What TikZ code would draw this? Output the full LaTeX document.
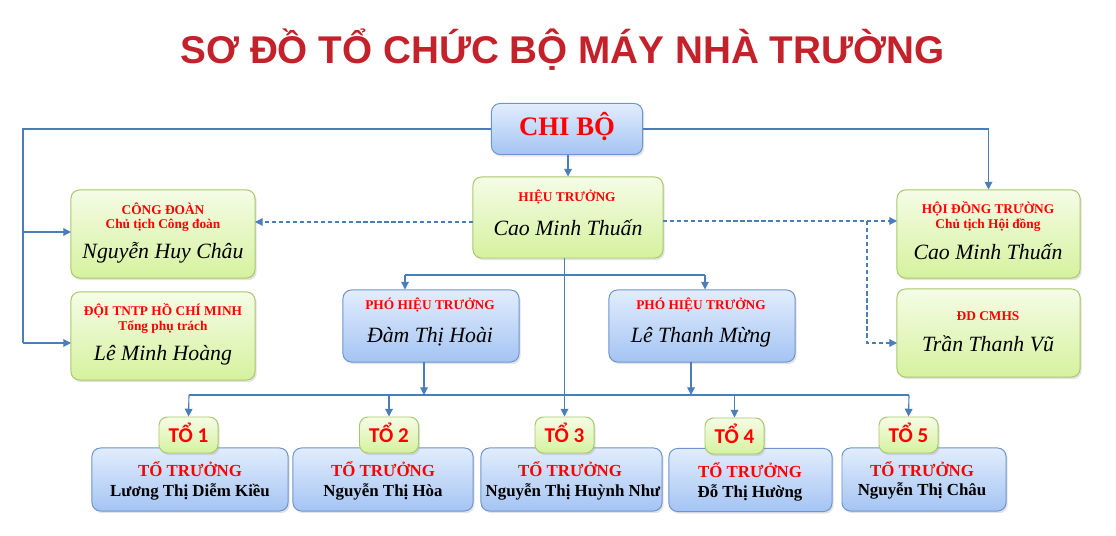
\documentclass[tikz,border=0pt]{standalone}
\usepackage{fontspec}
\setmainfont{Liberation Serif}
\newfontfamily\titlefont{Liberation Sans}
\newfontfamily\tabfont{Carlito}
\usetikzlibrary{arrows.meta,shadows}

\definecolor{lineblue}{HTML}{4A7EBB}
\definecolor{blueedge}{HTML}{6D94CF}
\definecolor{bluetop}{HTML}{E2EDFD}
\definecolor{bluebot}{HTML}{A4C4F3}
\definecolor{greenedge}{HTML}{A9C76C}
\definecolor{greentop}{HTML}{F5FCE6}
\definecolor{greenbot}{HTML}{D5F29E}
\definecolor{titlered}{HTML}{C3222B}

\tikzset{
    boxbase/.style={rounded corners=6pt, line width=0.7pt, inner sep=0pt,
        drop shadow={shadow xshift=1.2pt, shadow yshift=-1.5pt, opacity=0.22}},
    bluebox/.style={boxbase, draw=blueedge, top color=bluetop, bottom color=bluebot},
    greenbox/.style={boxbase, draw=greenedge, top color=greentop, bottom color=greenbot},
    tabbox/.style={greenbox, minimum width=1.475cm, minimum height=0.9cm},
    lowbox/.style={bluebox, minimum height=1.575cm},
    conn/.style={draw=lineblue, line width=0.8pt},
    arr/.style={conn, -{Triangle[length=5.5pt,width=5.5pt]}},
    dasharr/.style={arr, dash pattern=on 3pt off 2pt},
    lbl/.style={text=red, font=\fontsize{9.5}{11}\selectfont\bfseries, inner sep=0pt},
    nm/.style={font=\fontsize{15.5}{17}\selectfont\itshape, inner sep=0pt},
    ttlbl/.style={text=red, font=\fontsize{12}{14}\selectfont\bfseries, inner sep=0pt},
    ttname/.style={font=\fontsize{12}{14}\selectfont\bfseries, inner sep=0pt},
    tabtxt/.style={text=red, font=\tabfont\fontsize{15}{17}\selectfont\bfseries, inner sep=0pt}
}

\begin{document}
\begin{tikzpicture}[x=0.025cm, y=-0.025cm]
    \useasboundingbox (0,0) rectangle (1116,536);

    % title
    \node[text=titlered, font=\titlefont\fontsize{27.5}{30}\selectfont\bfseries] (title) at (562.5,50) {SƠ ĐỒ TỔ CHỨC BỘ MÁY NHÀ TRƯỜNG};

    % upper boxes
    \node[bluebox, minimum width=3.775cm, minimum height=1.275cm] (chibo) at (567,129) {};
    \node[greenbox, minimum width=4.75cm, minimum height=2.025cm] (ht) at (568,217.5) {};
    \node[greenbox, minimum width=4.6cm, minimum height=2.2cm] (cd) at (163,234) {};
    \node[greenbox, minimum width=4.6cm, minimum height=2.2cm] (doi) at (163,336) {};
    \node[greenbox, minimum width=4.575cm, minimum height=2.2cm] (hdt) at (988.5,234) {};
    \node[greenbox, minimum width=4.575cm, minimum height=2.2cm] (dd) at (988.5,333) {};
    \node[bluebox, minimum width=4.4cm, minimum height=1.8cm] (pht1) at (431,326) {};
    \node[bluebox, minimum width=4.65cm, minimum height=1.8cm] (pht2) at (702,326) {};

    % texts of upper boxes
    \node[text=red, font=\fontsize{19}{21}\selectfont\bfseries, inner sep=0pt] (chibotxt) at (567,127) {CHI BỘ};
    \node[lbl] (htlbl) at (567,197) {HIỆU TRƯỞNG};
    \node[nm] (htname) at (568,228) {Cao Minh Thuấn};
    \node[lbl] (cdlbl) at (163,209) {CÔNG ĐOÀN};
    \node[lbl] (cdsub) at (163,225) {Chủ tịch Công đoàn};
    \node[nm] (cdname) at (163,253) {Nguyễn Huy Châu};
    \node[lbl] (doilbl) at (163,311) {ĐỘI TNTP HỒ CHÍ MINH};
    \node[lbl] (doisub) at (163,327) {Tổng phụ trách};
    \node[nm] (doiname) at (163,355) {Lê Minh Hoàng};
    \node[lbl] (hdtlbl) at (988,209) {HỘI ĐỒNG TRƯỜNG};
    \node[lbl] (hdtsub) at (988,225) {Chủ tịch Hội đồng};
    \node[nm] (hdtname) at (988,252) {Cao Minh Thuấn};
    \node[lbl] (ddlbl) at (988,316) {ĐD CMHS};
    \node[nm] (ddname) at (988,344) {Trần Thanh Vũ};
    \node[lbl] (pht1lbl) at (430,305) {PHÓ HIỆU TRƯỞNG};
    \node[nm] (pht1name) at (430,337) {Đàm Thị Hoài};
    \node[lbl] (pht2lbl) at (701,305) {PHÓ HIỆU TRƯỞNG};
    \node[nm] (pht2name) at (701,337) {Lê Thanh Mừng};

    % lower boxes
    \node[lowbox, minimum width=4.9cm] (bx1) at (190,479.5) {};
    \node[lowbox, minimum width=4.5cm] (bx2) at (383,479.5) {};
    \node[lowbox, minimum width=4.525cm] (bx3) at (571.5,479.5) {};
    \node[lowbox, minimum width=4.075cm] (bx4) at (750.5,480) {};
    \node[lowbox, minimum width=4.1cm] (bx5) at (924,479.5) {};

    \node[ttlbl] (bx1lbl) at (190,469) {TỔ TRƯỞNG};
    \node[ttname] (bx1name) at (190,492) {Lương Thị Diễm Kiều};
    \node[ttlbl] (bx2lbl) at (383,469) {TỔ TRƯỞNG};
    \node[ttname] (bx2name) at (383,492) {Nguyễn Thị Hòa};
    \node[ttlbl] (bx3lbl) at (570,469) {TỔ TRƯỞNG};
    \node[ttname] (bx3name) at (573,492) {Nguyễn Thị Huỳnh Như};
    \node[ttlbl] (bx4lbl) at (750,470) {TỔ TRƯỞNG};
    \node[ttname] (bx4name) at (750,493) {Đỗ Thị Hường};
    \node[ttlbl] (bx5lbl) at (922,469) {TỔ TRƯỞNG};
    \node[ttname] (bx5name) at (922,491) {Nguyễn Thị Châu};

    % tabs
    \node[tabbox] (tab1) at (188.5,435) {};
    \node[tabbox] (tab2) at (389,435) {};
    \node[tabbox] (tab3) at (564.5,435) {};
    \node[tabbox] (tab4) at (734.5,436) {};
    \node[tabbox] (tab5) at (908.5,435) {};
    \node[tabtxt] (tab1txt) at (188.5,433) {TỔ 1};
    \node[tabtxt] (tab2txt) at (389,433) {TỔ 2};
    \node[tabtxt] (tab3txt) at (564.5,433) {TỔ 3};
    \node[tabtxt] (tab4txt) at (734.5,434) {TỔ 4};
    \node[tabtxt] (tab5txt) at (908.5,433) {TỔ 5};

    % connector points
    \coordinate (lbend) at (23,129);
    \coordinate (cdin) at (71,232);
    \coordinate (doiin) at (71,343);
    \coordinate (htL) at (473,222);
    \coordinate (cdR) at (255,222);
    \coordinate (htR) at (663,221);
    \coordinate (hdtin) at (897,221);
    \coordinate (dbend) at (867,221);
    \coordinate (ddin) at (897,343);
    \coordinate (pbus1) at (405,275);
    \coordinate (pbus2) at (705,275);
    \coordinate (p1out) at (424,362);
    \coordinate (p2out) at (691,362);
    \coordinate (bus1) at (189,395);
    \coordinate (bus5) at (909,395);

    % connectors
    \draw[conn] (chibo.west) -- (lbend) -- (lbend |- doiin);
    \draw[arr] (lbend |- cdin) -- (cdin);
    \draw[arr] (lbend |- doiin) -- (doiin);
    \draw[arr] (chibo.east) -| (hdt.north);
    \draw[arr] (chibo.south -| ht.north) -- (ht.north);
    \draw[dasharr] (htL) -- (cdR);
    \draw[dasharr] (htR) -- (hdtin);
    \draw[dasharr] (dbend) |- (ddin);
    \draw[conn] (pbus1) -- (pbus2);
    \draw[arr] (pbus1) -- (pbus1 |- pht1.north);
    \draw[arr] (pbus2) -- (pbus2 |- pht2.north);
    \draw[arr] (p1out) -- (p1out |- bus1);
    \draw[arr] (p2out) -- (p2out |- bus1);
    \draw[conn] (bus1) -- (bus5);
    \draw[arr] (ht.south -| tab3.north) -- (tab3.north);
    \draw[arr] (bus1) -- (tab1.north);
    \draw[arr] (tab2.north |- bus1) -- (tab2.north);
    \draw[arr] (tab4.north |- bus1) -- (tab4.north);
    \draw[arr] (bus5) -- (tab5.north);
\end{tikzpicture}
\end{document}
